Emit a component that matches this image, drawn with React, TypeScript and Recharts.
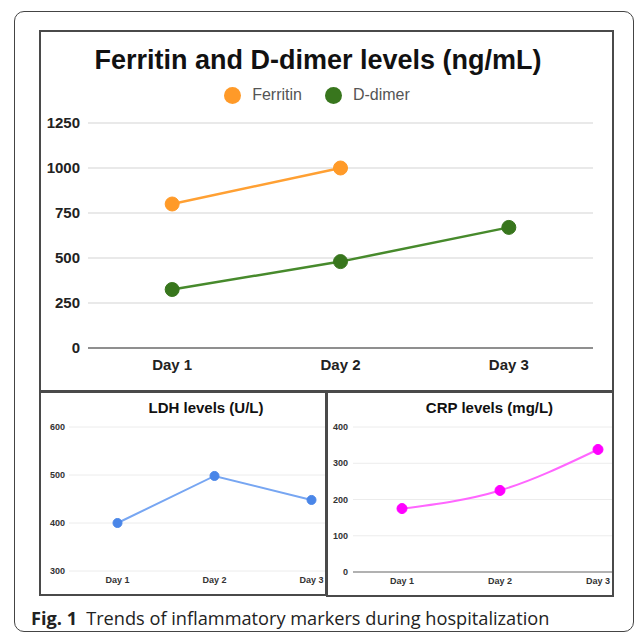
import {
  CartesianGrid,
  Legend,
  Line,
  LineChart,
  XAxis,
  YAxis,
} from "recharts";

const days = ["Day 1", "Day 2", "Day 3"];
const ferritin = [800, 1000, null];
const dDimer = [325, 480, 670];
const ldh = [400, 498, 448];
const crp = [175, 225, 338];

const topTicks = [0, 250, 500, 750, 1000, 1250];
const ldhTicks = [300, 400, 500, 600];
const crpTicks = [0, 100, 200, 300, 400];
const seriesOrder = ["Ferritin", "D-dimer"];

const topData = days.map((day, i) => ({ day, ferritin: ferritin[i], dDimer: dDimer[i] }));
const ldhData = days.map((day, i) => ({ day, ldh: ldh[i] }));
const crpData = days.map((day, i) => ({ day, crp: crp[i] }));

const FONT = "'Liberation Sans', Arial, sans-serif";

function box(left: number, top: number, width: number, height: number): React.CSSProperties {
  return {
    position: "absolute",
    left,
    top,
    width,
    height,
    boxSizing: "border-box",
    border: "2px solid #4a4a4a",
    overflow: "hidden",
    background: "#fff",
  };
}

function TopLegend({ payload }: any) {
  return (
    <div style={{ display: "flex", justifyContent: "center", alignItems: "center", fontFamily: FONT }}>
      {(payload ?? []).map((entry: any, i: number) => (
        <div key={entry.value} style={{ display: "flex", alignItems: "center", marginLeft: i ? 23 : 0 }}>
          <span
            style={{
              width: 17,
              height: 17,
              borderRadius: "50%",
              background: entry.payload?.fill ?? entry.color,
              display: "inline-block",
              marginRight: 11,
            }}
          />
          <span style={{ fontSize: 16, color: "#555", lineHeight: "20px" }}>{entry.value}</span>
        </div>
      ))}
    </div>
  );
}

function smallTitle(text: string, width: number) {
  return (
    <div
      style={{
        position: "absolute",
        left: 0,
        top: 7,
        width,
        textAlign: "center",
        fontFamily: FONT,
        fontWeight: 700,
        fontSize: 15,
        lineHeight: "15px",
        color: "#111",
        zIndex: 2,
      }}
    >
      {text}
    </div>
  );
}

export default function App() {
  return (
    <div style={{ position: "fixed", left: 0, top: 0, width: 636, height: 636, background: "#fff", overflow: "hidden" }}>
      {/* outer figure frame */}
      <div
        style={{
          position: "absolute",
          left: 14,
          top: 11,
          width: 620,
          height: 621,
          boxSizing: "border-box",
          border: "1px solid #444",
          borderRadius: 10,
        }}
      />

      {/* main chart */}
      <div style={box(39, 30, 575, 362)}>
        <div
          style={{
            position: "absolute",
            left: -41,
            top: 46.5 - 32,
            width: 636,
            textAlign: "center",
            fontFamily: FONT,
            fontWeight: 700,
            fontSize: 27,
            lineHeight: "27px",
            color: "#111",
            zIndex: 2,
          }}
        >
          Ferritin and D-dimer levels (ng/mL)
        </div>
        <LineChart width={571} height={358} data={topData} margin={{ top: 91, right: 19, bottom: 0, left: 0 }}>
          <CartesianGrid horizontal vertical={false} stroke="#e2e2e2" strokeWidth={1.5} />
          <XAxis
            dataKey="day"
            scale="band"
            height={42}
            tickLine={false}
            tickSize={6}
            tickMargin={5}
            axisLine={{ stroke: "#8f8f8f", strokeWidth: 2 }}
            tick={{ fill: "#222", fontSize: 15, fontWeight: 700, fontFamily: FONT }}
          />
          <YAxis
            width={47}
            domain={[0, 1250]}
            ticks={topTicks}
            axisLine={false}
            tickLine={false}
            tick={{ fill: "#222", fontSize: 15, fontWeight: 700, fontFamily: FONT }}
          />
          <Legend
            layout="horizontal"
            align="center"
            verticalAlign="middle"
            itemSorter={(item: any) => seriesOrder.indexOf(item.value)}
            wrapperStyle={{ top: 53 }}
            content={<TopLegend />}
          />
          <Line
            name="Ferritin"
            dataKey="ferritin"
            type="linear"
            stroke="#ffa033"
            strokeWidth={2.5}
            fill="#ff9a28"
            dot={{ r: 7, fill: "#ff9a28", stroke: "#ff9a28", strokeWidth: 1 }}
            isAnimationActive={false}
          />
          <Line
            name="D-dimer"
            dataKey="dDimer"
            type="linear"
            stroke="#478a2c"
            strokeWidth={2.5}
            fill="#38761d"
            dot={{ r: 7, fill: "#38761d", stroke: "#38761d", strokeWidth: 1 }}
            isAnimationActive={false}
          />
        </LineChart>
      </div>

      {/* LDH */}
      <div style={box(39, 391, 288, 205)}>
        {smallTitle("LDH levels (U/L)", 330)}
        <LineChart width={324} height={201} data={ldhData} margin={{ top: 34, right: 5, bottom: 0, left: 0 }}>
          <CartesianGrid horizontal vertical={false} stroke="#ececec" strokeWidth={1} />
          <XAxis
            dataKey="day"
            scale="band"
            height={23}
            tickLine={false}
            tickSize={3}
            tickMargin={3}
            axisLine={false}
            tick={{ fill: "#333", fontSize: 9, fontWeight: 700, fontFamily: FONT }}
          />
          <YAxis
            width={28}
            domain={[300, 600]}
            ticks={ldhTicks}
            axisLine={false}
            tickLine={false}
            tickSize={2}
            tickMargin={2}
            tick={{ fill: "#333", fontSize: 9, fontWeight: 700, fontFamily: FONT }}
          />
          <Line
            dataKey="ldh"
            type="linear"
            stroke="#77a6f2"
            strokeWidth={2}
            dot={{ r: 4.5, fill: "#4a86e8", stroke: "#4a86e8", strokeWidth: 1 }}
            isAnimationActive={false}
          />
        </LineChart>
      </div>

      {/* CRP */}
      <div style={box(326, 391, 288, 206)}>
        {smallTitle("CRP levels (mg/L)", 323)}
        <LineChart width={324} height={202} data={crpData} margin={{ top: 34, right: 5, bottom: 0, left: 0 }}>
          <CartesianGrid horizontal vertical={false} stroke="#ececec" strokeWidth={1} />
          <XAxis
            dataKey="day"
            scale="band"
            height={23}
            tickLine={false}
            tickSize={3}
            tickMargin={3}
            axisLine={{ stroke: "#9a9a9a", strokeWidth: 1.5 }}
            tick={{ fill: "#333", fontSize: 9, fontWeight: 700, fontFamily: FONT }}
          />
          <YAxis
            width={25}
            domain={[0, 400]}
            ticks={crpTicks}
            axisLine={false}
            tickLine={false}
            tickSize={2}
            tickMargin={3}
            tick={{ fill: "#333", fontSize: 9, fontWeight: 700, fontFamily: FONT }}
          />
          <Line
            dataKey="crp"
            type="monotone"
            stroke="#ff66ff"
            strokeWidth={2}
            dot={{ r: 5, fill: "#ff00ff", stroke: "#ff00ff", strokeWidth: 1 }}
            isAnimationActive={false}
          />
        </LineChart>
      </div>

      {/* caption */}
      <div
        style={{
          position: "absolute",
          left: 31,
          top: 609,
          fontFamily: "'Open Sans', sans-serif",
          fontSize: 18.2,
          lineHeight: "18px",
          color: "#222",
          whiteSpace: "nowrap",
        }}
      >
        <b>Fig. 1</b>
        <span style={{ marginLeft: 9 }}>Trends of inflammatory markers during hospitalization</span>
      </div>
    </div>
  );
}
